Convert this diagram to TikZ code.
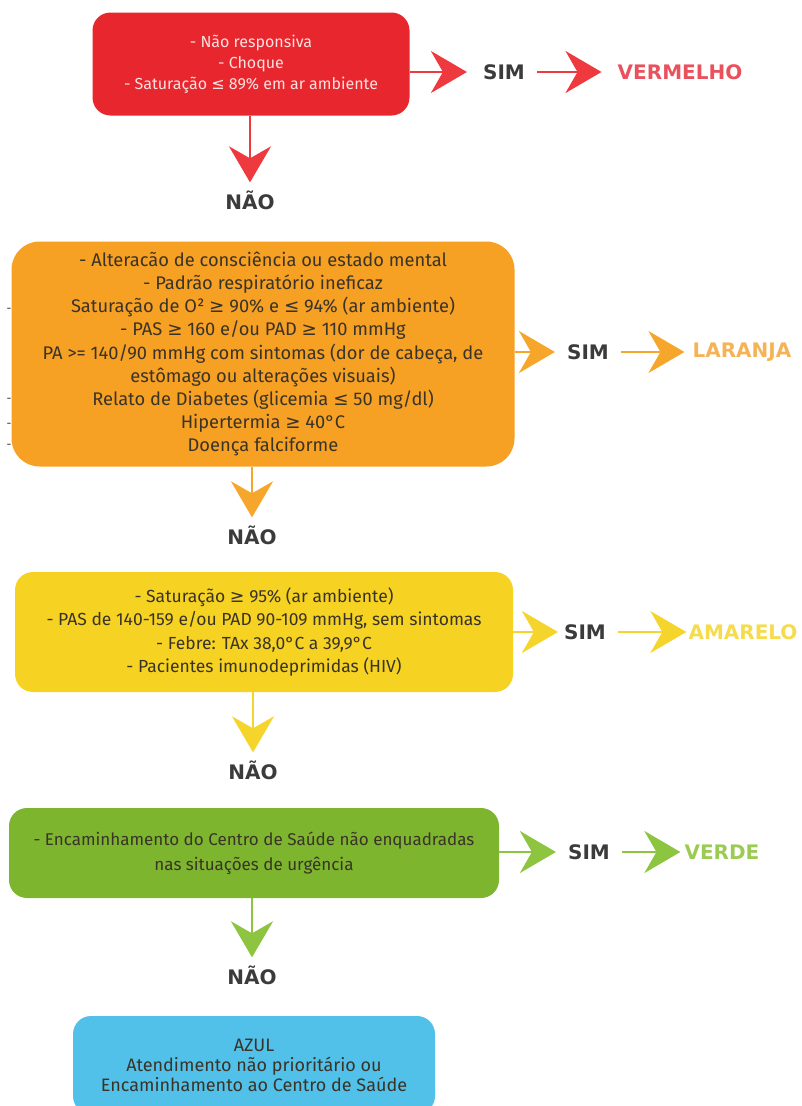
\documentclass[tikz,border=0pt]{standalone}
\usepackage{fontspec}
\setmainfont{Fira Sans}
\newfontfamily\labelfont{DejaVu Sans}
\newfontfamily\symf{DejaVu Sans}
\usetikzlibrary{arrows.meta,positioning}

\definecolor{redbox}{HTML}{E8262D}
\definecolor{redarrow}{HTML}{EE3A3F}
\definecolor{redlabel}{HTML}{E9525C}
\definecolor{orangebox}{HTML}{F6A024}
\definecolor{orangearrow}{HTML}{F6A72B}
\definecolor{orangelabel}{HTML}{F5B356}
\definecolor{yellowbox}{HTML}{F6D223}
\definecolor{yellowarrow}{HTML}{F5D52C}
\definecolor{yellowlabel}{HTML}{F6DC4C}
\definecolor{greenbox}{HTML}{7DB52E}
\definecolor{greenarrow}{HTML}{8DC540}
\definecolor{greenlabel}{HTML}{9BCB52}
\definecolor{bluebox}{HTML}{52C1EA}
\definecolor{boxtext}{HTML}{3A3328}
\definecolor{answer}{HTML}{3B3B3B}

\newcommand{\lesym}{{\symf ≤}}
\newcommand{\gesym}{{\symf ≥}}

\begin{document}
\begin{tikzpicture}[
  x=1pt, y=-1pt,
  box/.style={rounded corners=18pt, align=center, text=boxtext, inner sep=0pt},
  answerlabel/.style={font=\labelfont\bfseries\fontsize{20}{22}\selectfont, text=answer, inner sep=2pt},
  colourlabel/.style={font=\labelfont\bfseries\fontsize{20}{22}\selectfont, inner sep=2pt},
  arrow/.style={-{Stealth[length=36pt, width=42pt, inset=12pt]}, line width=2.6pt}
]
\useasboundingbox (0,0) rectangle (801,1106);

% boxes
\node[box, fill=redbox, text=white!88!red, minimum width=317pt, minimum height=103pt,
  font=\fontsize{16}{21}\selectfont] (red) at (251,64)
  {- Não responsiva\\- Choque\\- Saturação \lesym{} 89\% em ar ambiente};
\node[box, fill=orangebox, rounded corners=28pt, minimum width=503pt, minimum height=225pt,
  font=\fontsize{18.3}{23.2}\selectfont] (orange) at (263,354)
  {- Alteracão de consciência ou estado mental\\
   - Padrão respiratório ineficaz\\
   Saturação de O² \gesym{} 90\% e \lesym{} 94\% (ar ambiente)\\
   - PAS \gesym{} 160 e/ou PAD \gesym{} 110 mmHg\\
   PA >= 140/90 mmHg com sintomas (dor de cabeça, de\\
   estômago ou alterações visuais)\\
   Relato de Diabetes (glicemia \lesym{} 50 mg/dl)\\
   Hipertermia \gesym{} 40°C\\
   Doença falciforme};
\node[box, fill=yellowbox, minimum width=498pt, minimum height=120pt,
  font=\fontsize{17.5}{23.3}\selectfont] (yellow) at (264,632)
  {- Saturação \gesym{} 95\% (ar ambiente)\\
   - PAS de 140-159 e/ou PAD 90-109 mmHg, sem sintomas\\
   - Febre: TAx 38,0°C a 39,9°C\\
   - Pacientes imunodeprimidas (HIV)};
\node[box, fill=greenbox, minimum width=490pt, minimum height=90pt,
  font=\fontsize{17}{25}\selectfont] (green) at (254,853)
  {- Encaminhamento do Centro de Saúde não enquadradas\\nas situações de urgência};
\node[box, fill=bluebox, minimum width=362pt, minimum height=98pt,
  font=\fontsize{18}{20}\selectfont] (blue) at (254,1065)
  {AZUL\\Atendimento não prioritário ou\\Encaminhamento ao Centro de Saúde};

% stray marks left of the orange box
\foreach \y in {310,400,425,446}
  \node[text=boxtext, font=\fontsize{12}{12}\selectfont, inner sep=0pt] at (9,\y) {-};

% answers
\node[answerlabel] (nao1) at (250,200) {NÃO};
\node[answerlabel] (nao2) at (252,535) {NÃO};
\node[answerlabel] (nao3) at (253,770) {NÃO};
\node[answerlabel] (nao4) at (252,975) {NÃO};

\node[answerlabel] (sim1) at (504,72) {SIM};
\node[answerlabel] (sim2) at (588,352) {SIM};
\node[answerlabel] (sim3) at (585,632) {SIM};
\node[answerlabel] (sim4) at (589,852) {SIM};

\node[colourlabel, text=redlabel] (vermelho) at (680,72) {VERMELHO};
\node[colourlabel, text=orangelabel] (laranja) at (742,352) {LARANJA};
\node[colourlabel, text=yellowlabel] (amarelo) at (743,632) {AMARELO};
\node[colourlabel, text=greenlabel] (verde) at (722,852) {VERDE};

% arrows
\draw[arrow, redarrow, shorten >=14pt] (red.east |- sim1) -- (sim1);
\draw[arrow, redarrow, shorten <=10pt, shorten >=14pt] (sim1) -- (vermelho);
\draw[arrow, redarrow, shorten >=6pt] (red.south -| nao1) -- (nao1);

\draw[arrow, orangearrow, shorten >=10pt] (orange.east |- sim2) -- (sim2);
\draw[arrow, orangearrow, shorten <=10pt, shorten >=6pt] (sim2) -- (laranja);
\draw[arrow, orangearrow, shorten >=6pt] (orange.south -| nao2) -- (nao2);

\draw[arrow, yellowarrow, shorten >=4pt] (yellow.east |- sim3) -- (sim3);
\draw[arrow, yellowarrow, shorten <=10pt, shorten >=0pt] (sim3) -- (amarelo);
\draw[arrow, yellowarrow, shorten >=6pt] (yellow.south -| nao3) -- (nao3);

\draw[arrow, greenarrow, shorten >=10pt] (green.east |- sim4) -- (sim4);
\draw[arrow, greenarrow, shorten <=10pt, shorten >=2pt] (sim4) -- (verde);
\draw[arrow, greenarrow, shorten >=6pt] (green.south -| nao4) -- (nao4);
\end{tikzpicture}
\end{document}
